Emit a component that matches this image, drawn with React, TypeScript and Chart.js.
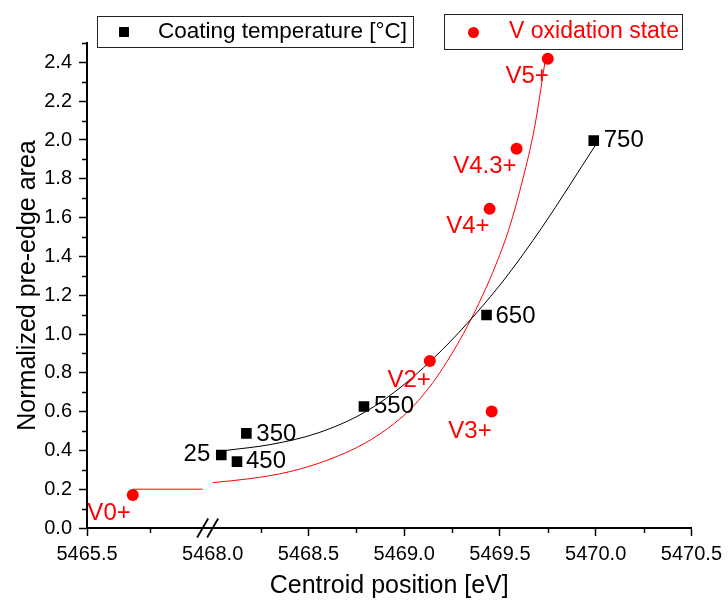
import React, { useEffect, useRef } from 'react';
import { Chart, registerables } from 'chart.js';

Chart.register(...registerables);

// ---------- data ----------
const coatingLabels = ['25', '350', '450', '550', '650', '750'];
const coatingX = [5468.045, 5468.176, 5468.127, 5468.79, 5469.43, 5469.99];
const coatingY = [0.376, 0.488, 0.342, 0.626, 1.098, 1.997];

const oxidationLabels = ['V0+', 'V2+', 'V3+', 'V4+', 'V4.3+', 'V5+'];
const oxidationX = [5466.41, 5469.134, 5469.457, 5469.446, 5469.587, 5469.75];
const oxidationY = [0.17, 0.861, 0.6, 1.645, 1.955, 2.419];

// fitted curves
const coatingFitX = [5468.07, 5468.3, 5468.55, 5468.8, 5469.0, 5469.2, 5469.37, 5469.53, 5469.72, 5470.0];
const coatingFitY = [0.4, 0.43, 0.49, 0.6, 0.74, 0.92, 1.1, 1.29, 1.55, 1.975];

const oxidationFitLowX = [5466.41, 5467.8];
const oxidationFitLowY = [0.2, 0.2];
const oxidationFitX = [5468.0, 5468.2, 5468.4, 5468.6, 5468.8, 5468.95, 5469.05, 5469.15, 5469.25, 5469.33, 5469.41, 5469.48, 5469.55, 5469.62, 5469.68, 5469.735];
const oxidationFitY = [0.234, 0.255, 0.29, 0.35, 0.44, 0.54, 0.63, 0.75, 0.9, 1.04, 1.2, 1.36, 1.55, 1.8, 2.06, 2.4];

// axis ticks
const xMajorTicks = [5465.5, 5468.0, 5468.5, 5469.0, 5469.5, 5470.0, 5470.5];
const xMinorTicks = [5466.75, 5468.25, 5468.75, 5469.25, 5469.75, 5470.25];
const yMajorTicks = [0, 0.2, 0.4, 0.6, 0.8, 1.0, 1.2, 1.4, 1.6, 1.8, 2.0, 2.2, 2.4];
const yMinorTicks = [0.1, 0.3, 0.5, 0.7, 0.9, 1.1, 1.3, 1.5, 1.7, 1.9, 2.1, 2.3, 2.5];
const xMin = 5465.5;
const xMax = 5470.5;
const yMin = 0;
const yMax = 2.5;

// broken axis: the segment below the break is compressed
const BREAK = 5468.0;
const BREAK_SCALE = 0.2625;
const toAxis = (x: number) => (x >= BREAK ? x : BREAK - (BREAK - x) * BREAK_SCALE);
const fromAxis = (u: number) => (u >= BREAK - 1e-9 ? u : BREAK - (BREAK - u) / BREAK_SCALE);

// ---------- styling ----------
const FONT = "'Liberation Sans', Arial, Helvetica, sans-serif";
const RED = '#ff0000';
const coatingLabelPlacement = [
  { dx: -11, dy: -1, align: 'right' },
  { dx: 10, dy: 1, align: 'left' },
  { dx: 9, dy: 0, align: 'left' },
  { dx: 10, dy: 0, align: 'left' },
  { dx: 9, dy: 1, align: 'left' },
  { dx: 10, dy: 0, align: 'left' },
];
const oxidationLabelPlacement = [
  { dx: -2, dy: 18, align: 'right' },
  { dx: 1, dy: 19, align: 'right' },
  { dx: 0, dy: 20, align: 'right' },
  { dx: 0, dy: 18, align: 'right' },
  { dx: 0, dy: 18, align: 'right' },
  { dx: 1, dy: 18, align: 'right' },
];

const pts = (xs: number[], ys: number[]) => xs.map((x, i) => ({ x: toAxis(x), y: ys[i] }));

const overlayPlugin = {
  id: 'overlay',
  afterDraw(chart: any) {
    const { ctx, chartArea } = chart;
    const xs = chart.scales.x;
    const ys = chart.scales.y;
    ctx.save();
    ctx.strokeStyle = '#000';
    ctx.lineWidth = 1.5;
    // minor ticks
    xMinorTicks.forEach((v) => {
      const px = Math.round(xs.getPixelForValue(toAxis(v))) + 0.5;
      ctx.beginPath();
      ctx.moveTo(px, chartArea.bottom);
      ctx.lineTo(px, chartArea.bottom + 5);
      ctx.stroke();
    });
    yMinorTicks.forEach((v) => {
      const py = Math.round(ys.getPixelForValue(v)) + 0.5;
      ctx.beginPath();
      ctx.moveTo(chartArea.left, py);
      ctx.lineTo(chartArea.left - 5, py);
      ctx.stroke();
    });
    // axis break marks
    const bx = xs.getPixelForValue(toAxis(BREAK));
    ctx.lineWidth = 1.8;
    [bx - 10, bx].forEach((cx) => {
      ctx.beginPath();
      ctx.moveTo(cx - 5.5, chartArea.bottom + 9.5);
      ctx.lineTo(cx + 5.5, chartArea.bottom - 9.5);
      ctx.stroke();
    });
    // point labels
    ctx.textBaseline = 'middle';
    ctx.font = `24px ${FONT}`;
    const m0 = chart.getDatasetMeta(0);
    ctx.fillStyle = '#000';
    coatingLabels.forEach((t, i) => {
      const el = m0.data[i];
      const p = coatingLabelPlacement[i];
      ctx.textAlign = p.align;
      ctx.fillText(t, el.x + p.dx, el.y + p.dy);
    });
    const m1 = chart.getDatasetMeta(1);
    ctx.fillStyle = RED;
    oxidationLabels.forEach((t, i) => {
      const el = m1.data[i];
      const p = oxidationLabelPlacement[i];
      ctx.textAlign = p.align;
      ctx.fillText(t, el.x + p.dx, el.y + p.dy);
    });
    // legend boxes
    ctx.lineWidth = 1;
    ctx.strokeStyle = '#222';
    ctx.strokeRect(97.5, 16.5, 316, 31);
    ctx.strokeRect(444.5, 14.5, 238, 35);
    ctx.fillStyle = '#000';
    ctx.fillRect(119, 27, 10, 10);
    ctx.textAlign = 'left';
    ctx.font = `22.5px ${FONT}`;
    ctx.fillText('Coating temperature [°C]', 158, 32);
    ctx.fillStyle = RED;
    ctx.beginPath();
    ctx.arc(473.5, 32.5, 5.5, 0, Math.PI * 2);
    ctx.fill();
    ctx.font = `23px ${FONT}`;
    ctx.fillText('V oxidation state', 509, 32);
    ctx.restore();
  },
};

export default function App() {
  const ref = useRef<HTMLCanvasElement | null>(null);
  useEffect(() => {
    if (!ref.current) return;
    const chart = new Chart(ref.current, {
      type: 'scatter',
      data: {
        datasets: [
          {
            label: 'Coating temperature [°C]',
            data: pts(coatingX, coatingY),
            pointStyle: 'rect',
            pointRadius: 7.5,
            backgroundColor: '#000',
            borderWidth: 0,
          },
          {
            label: 'V oxidation state',
            data: pts(oxidationX, oxidationY),
            pointStyle: 'circle',
            pointRadius: 6,
            backgroundColor: RED,
            borderWidth: 0,
          },
          {
            label: 'coating fit',
            data: pts(coatingFitX, coatingFitY),
            showLine: true,
            pointRadius: 0,
            borderColor: '#000',
            borderWidth: 1,
            cubicInterpolationMode: 'monotone',
          },
          {
            label: 'oxidation fit low',
            data: pts(oxidationFitLowX, oxidationFitLowY),
            showLine: true,
            pointRadius: 0,
            borderColor: RED,
            borderWidth: 1,
          },
          {
            label: 'oxidation fit',
            data: pts(oxidationFitX, oxidationFitY),
            showLine: true,
            pointRadius: 0,
            borderColor: RED,
            borderWidth: 1,
            cubicInterpolationMode: 'monotone',
          },
        ],
      } as any,
      options: {
        responsive: false,
        devicePixelRatio: 1,
        animation: false,
        layout: { padding: { left: 0, top: 43, right: 34, bottom: 0 } },
        plugins: { legend: { display: false }, tooltip: { enabled: false } },
        scales: {
          x: {
            type: 'linear',
            position: 'bottom',
            min: toAxis(xMin),
            max: xMax,
            border: { display: true, color: '#000', width: 2 },
            grid: {
              drawOnChartArea: false,
              drawTicks: true,
              tickLength: 8,
              tickWidth: 1.5,
              tickColor: (c: any) => (c.index === 1 ? 'rgba(0,0,0,0)' : '#000'),
            },
            afterBuildTicks: (s: any) => {
              s.ticks = xMajorTicks.map((v) => ({ value: toAxis(v) }));
            },
            afterFit: (s: any) => {
              s.height = 76;
            },
            ticks: {
              color: '#000',
              font: { family: FONT, size: 20 },
              padding: 6,
              maxRotation: 0,
              autoSkip: false,
              callback: (v: any) => fromAxis(Number(v)).toFixed(1),
            },
            title: {
              display: true,
              text: 'Centroid position [eV]',
              color: '#000',
              font: { family: FONT, size: 25 },
              padding: { top: 0, bottom: 3 },
            },
          },
          y: {
            type: 'linear',
            min: yMin,
            max: yMax,
            border: { display: true, color: '#000', width: 2 },
            grid: { drawOnChartArea: false, drawTicks: true, tickLength: 8, tickWidth: 1.5, tickColor: '#000' },
            afterBuildTicks: (s: any) => {
              s.ticks = yMajorTicks.map((v) => ({ value: v }));
            },
            afterFit: (s: any) => {
              s.width = 87;
            },
            ticks: {
              color: '#000',
              font: { family: FONT, size: 20 },
              padding: 7,
              autoSkip: false,
              callback: (v: any) => Number(v).toFixed(1),
            },
            title: {
              display: true,
              text: 'Normalized pre-edge area',
              color: '#000',
              font: { family: FONT, size: 25 },
              padding: { top: 13, bottom: 0 },
            },
          },
        },
      } as any,
      plugins: [overlayPlugin],
    });
    return () => chart.destroy();
  }, []);
  return (
    <div style={{ position: 'absolute', left: 0, top: 0, width: 728, height: 604, background: '#fff' }}>
      <canvas ref={ref} width={728} height={604} style={{ display: 'block' }} />
    </div>
  );
}
